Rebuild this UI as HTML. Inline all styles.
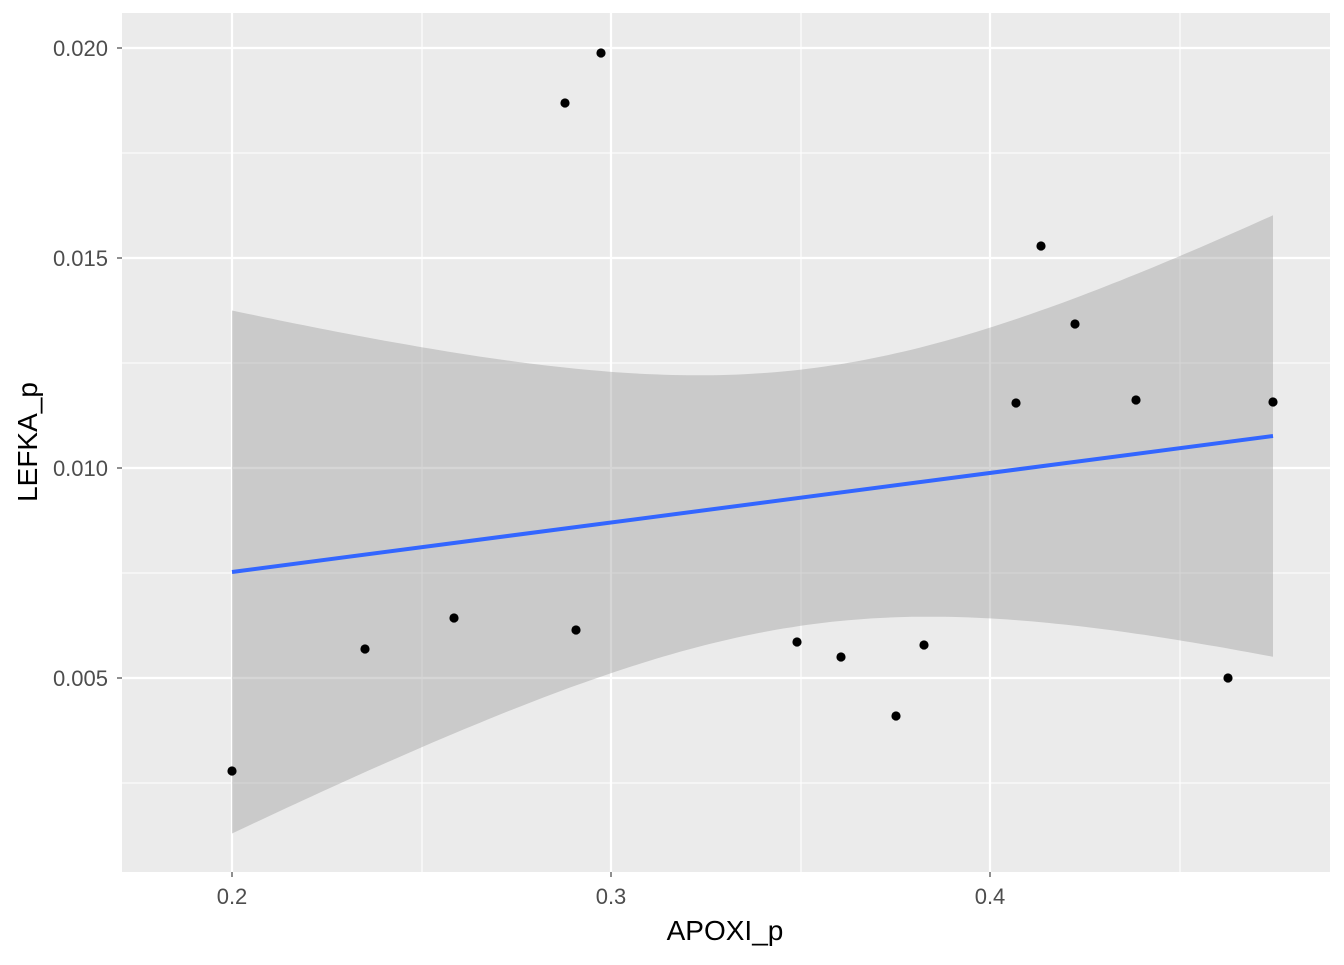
<!DOCTYPE html>
<html><head><style>body{margin:0;background:#fff}</style></head><body>
<svg width="1344" height="960" xmlns="http://www.w3.org/2000/svg" font-family="Liberation Sans, sans-serif">
<rect x="0" y="0" width="1344" height="960" fill="#fff"/>
<rect x="122" y="13" width="1208" height="859" fill="#ebebeb"/>
<g stroke="#fff" stroke-width="1.1">
<line x1="422" y1="13" x2="422" y2="872"/><line x1="801" y1="13" x2="801" y2="872"/><line x1="1180" y1="13" x2="1180" y2="872"/>
<line x1="122" y1="153" x2="1330" y2="153"/><line x1="122" y1="363" x2="1330" y2="363"/><line x1="122" y1="573" x2="1330" y2="573"/><line x1="122" y1="783" x2="1330" y2="783"/>
</g>
<g stroke="#fff" stroke-width="2.2">
<line x1="232" y1="13" x2="232" y2="872"/><line x1="611" y1="13" x2="611" y2="872"/><line x1="990" y1="13" x2="990" y2="872"/>
<line x1="122" y1="48" x2="1330" y2="48"/><line x1="122" y1="258" x2="1330" y2="258"/><line x1="122" y1="468" x2="1330" y2="468"/><line x1="122" y1="678" x2="1330" y2="678"/>
</g>
<path id="rib" fill="#999" fill-opacity="0.4"/>
<line x1="232" y1="572" x2="1273" y2="436" stroke="#3366ff" stroke-width="4"/>
<g fill="#000">
<circle cx="232" cy="771" r="4.6"/><circle cx="365" cy="649" r="4.6"/><circle cx="454" cy="618" r="4.6"/><circle cx="565" cy="103" r="4.6"/><circle cx="576" cy="630" r="4.6"/><circle cx="601" cy="53" r="4.6"/><circle cx="797" cy="642" r="4.6"/><circle cx="841" cy="657" r="4.6"/><circle cx="896" cy="716" r="4.6"/><circle cx="924" cy="645" r="4.6"/><circle cx="1016" cy="403" r="4.6"/><circle cx="1041" cy="246" r="4.6"/><circle cx="1075" cy="324" r="4.6"/><circle cx="1136" cy="400" r="4.6"/><circle cx="1228" cy="678" r="4.6"/><circle cx="1273" cy="402" r="4.6"/>
</g>
<g stroke="#333" stroke-width="1.1">
<line x1="117" y1="48" x2="122" y2="48"/><line x1="117" y1="258" x2="122" y2="258"/><line x1="117" y1="468" x2="122" y2="468"/><line x1="117" y1="678" x2="122" y2="678"/>
<line x1="232" y1="872" x2="232" y2="877"/><line x1="611" y1="872" x2="611" y2="877"/><line x1="990" y1="872" x2="990" y2="877"/>
</g>
<g fill="#4d4d4d" font-size="22" text-anchor="end">
<text x="108" y="56">0.020</text><text x="108" y="266">0.015</text><text x="108" y="476">0.010</text><text x="108" y="686">0.005</text>
</g>
<g fill="#4d4d4d" font-size="22" text-anchor="middle">
<text x="232" y="904">0.2</text><text x="611" y="904">0.3</text><text x="990" y="904">0.4</text>
</g>
<text x="725" y="940" font-size="28" text-anchor="middle">APOXI_p</text>
<text transform="translate(37,442) rotate(-90)" font-size="28" text-anchor="middle">LEFKA_p</text>
<script>
var up=[],lo=[];
for(var x=232;x<=1273;x+=8){if(x>1265)x=1273;var c=572-0.1306*(x-232);var w=Math.sqrt(16384+0.1535*(x-814)*(x-814));up.push(x+","+(c-w).toFixed(1));lo.unshift(x+","+(c+w).toFixed(1));}
document.getElementById("rib").setAttribute("d","M"+up.join(" L")+" L"+lo.join(" L")+" Z");
</script>
</svg>
</body></html>
